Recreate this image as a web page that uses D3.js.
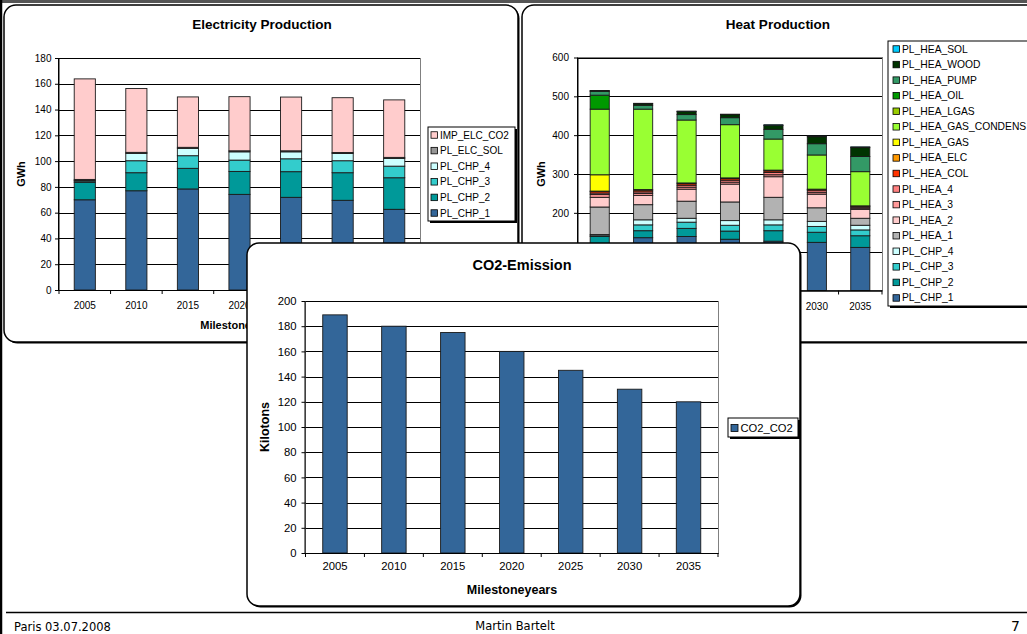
<!DOCTYPE html>
<html><head><meta charset="utf-8">
<script src="https://cdn.jsdelivr.net/npm/d3@7"></script>
<style>
body{margin:0;background:#fff;}
svg{display:block;font-family:"Liberation Sans",Arial,sans-serif;}
</style></head>
<body><svg id="c" width="1027" height="634"></svg>
<script>
// ---------------- DATA ----------------
const years = ["2005","2010","2015","2020","2025","2030","2035"];

// Electricity Production (GWh)
const elecKeys = ["PL_CHP_1","PL_CHP_2","PL_CHP_3","PL_CHP_4","PL_ELC_SOL","IMP_ELC_CO2"];
const elecCHP1 = [70, 77, 78.4, 74.2, 71.9, 69.6, 62.6];
const elecCHP2 = [13.5, 14, 16, 17.8, 19.9, 21.4, 24.5];
const elecCHP3 = [1, 9.3, 9.8, 8.8, 10, 9.3, 9];
const elecCHP4 = [0.5, 5.7, 5.7, 6.4, 5.4, 5.6, 6];
const elecSOL  = [0.8, 0.8, 0.8, 0.8, 0.8, 0.8, 0.8];
const elecIMP  = [78, 49.5, 39.1, 42, 41.7, 42.5, 44.6];
const elecColors = ["#336699","#009999","#33CCCC","#CCFFFF","#969696","#FFCCCC"];
const elecTicks = [0,20,40,60,80,100,120,140,160,180];

// Heat Production (GWh)
const heatKeys = ["PL_CHP_1","PL_CHP_2","PL_CHP_3","PL_CHP_4","PL_HEA_1","PL_HEA_2","PL_HEA_3","PL_HEA_4",
  "PL_HEA_COL","PL_HEA_ELC","PL_HEA_GAS","PL_HEA_GAS_CONDENS","PL_HEA_LGAS","PL_HEA_OIL","PL_HEA_PUMP","PL_HEA_WOOD","PL_HEA_SOL"];
const heatCHP1   = [120, 136, 139, 132, 127, 124, 111];
const heatCHP2   = [19, 18, 21, 21, 27, 26, 30];
const heatCHP3   = [2, 15, 16, 15, 15, 15, 15];
const heatCHP4   = [3, 13, 10, 12, 13, 13, 12];
const heatHEA1   = [71, 39, 44, 48, 58, 35, 18];
const heatHEA2   = [25, 24, 31, 46, 53, 35, 23];
const heatHEA3   = [7, 5, 5, 5, 5, 4, 3];
const heatHEA4   = [4, 4, 5, 5, 6, 5, 3];
const heatCOL    = [4, 4, 4, 4, 4, 3, 2];
const heatELC    = [1, 2, 2, 2, 2, 1, 1];
const heatGAS    = [42, 0, 0, 0, 0, 0, 0];
const heatCONDENS= [169, 207, 162, 137, 80, 88, 88];
const heatLGAS   = [0, 0, 0, 0, 0, 0, 0];
const heatOIL    = [36, 0, 0, 0, 0, 0, 0];
const heatPUMP   = [10, 10, 14, 18, 25, 29, 39];
const heatWOOD   = [1, 4, 8, 8, 10, 18, 23];
const heatSOL    = [1, 1, 1, 1, 2, 2, 2];
const heatColors = ["#336699","#009999","#33CCCC","#CCFFFF","#B2B2B2","#FFCCCC","#FF9999","#FF8080",
  "#FF3300","#FF9900","#FFFF00","#99FF33","#99CC00","#009900","#339966","#003300","#00CCFF"];
const heatTicks = [0,100,200,300,400,500,600];

// CO2-Emission (Kilotons)
const co2Keys = ["CO2_CO2"];
const co2Values = [189, 180, 175, 160, 145, 130, 120];
const co2Colors = ["#336699"];
const co2Ticks = [0,20,40,60,80,100,120,140,160,180,200];

// footer
const footerLeft = "Paris 03.07.2008";
const footerCenter = "Martin Bartelt";
const footerRight = "7";

// ---------------- BUILD ----------------
function rows(keys, arrays){
  return years.map((yr,i)=>{const r={year:yr}; keys.forEach((k,j)=>r[k]=arrays[j][i]); return r;});
}
const elecRows = rows(elecKeys,[elecCHP1,elecCHP2,elecCHP3,elecCHP4,elecSOL,elecIMP]);
const heatRows = rows(heatKeys,[heatCHP1,heatCHP2,heatCHP3,heatCHP4,heatHEA1,heatHEA2,heatHEA3,heatHEA4,
  heatCOL,heatELC,heatGAS,heatCONDENS,heatLGAS,heatOIL,heatPUMP,heatWOOD,heatSOL]);
const co2Rows = rows(co2Keys,[co2Values]);

const svg = d3.select("#c");

// slide frame
svg.append("line").attr("x1",0).attr("x2",1027).attr("y1",1.5).attr("y2",1.5).attr("stroke","#555").attr("stroke-width",3);
svg.append("line").attr("x1",1).attr("x2",1).attr("y1",0).attr("y2",634).attr("stroke","#000").attr("stroke-width",2.5);
svg.append("line").attr("x1",6).attr("x2",1027).attr("y1",612.5).attr("y2",612.5).attr("stroke","#000").attr("stroke-width",1.5);

svg.append("text").attr("x",14).attr("y",631).attr("font-family","DejaVu Sans").attr("font-size",11.5).text(footerLeft);
svg.append("text").attr("x",515).attr("y",630).attr("text-anchor","middle").attr("font-family","DejaVu Sans").attr("font-size",11.5).text(footerCenter);
svg.append("text").attr("x",1020).attr("y",631).attr("text-anchor","end").attr("font-family","DejaVu Sans").attr("font-size",14).text(footerRight);

function panel(x,y,w,h){
  const g = svg.append("g");
  g.append("rect").attr("x",x+1.5).attr("y",y+1.5).attr("width",w).attr("height",h).attr("rx",12).attr("fill","#000");
  g.append("rect").attr("x",x).attr("y",y).attr("width",w).attr("height",h).attr("rx",12)
    .attr("fill","#fff").attr("stroke","#000").attr("stroke-width",1.5);
  return g;
}

function chart(cfg){
  const g = panel(cfg.px,cfg.py,cfg.pw,cfg.ph);
  const x = d3.scaleBand().domain(years).range([cfg.x0,cfg.x1]).paddingInner(cfg.pad).paddingOuter(cfg.pad/2);
  const y = d3.scaleLinear().domain(cfg.ydom).range([cfg.y0,cfg.y1]);
  const fs = cfg.fs;
  g.append("rect").attr("x",cfg.x0).attr("y",cfg.y1).attr("width",cfg.x1-cfg.x0).attr("height",cfg.y0-cfg.y1)
    .attr("fill","#fff").attr("stroke","#808080").attr("stroke-width",1).attr("shape-rendering","crispEdges");
  g.append("g").selectAll("line").data(cfg.ticks.filter(t=>t>cfg.ydom[0])).join("line")
    .attr("x1",cfg.x0).attr("x2",cfg.x1).attr("y1",d=>Math.round(y(d))+0.5).attr("y2",d=>Math.round(y(d))+0.5)
    .attr("stroke","#000").attr("stroke-width",1).attr("shape-rendering","crispEdges");
  const series = d3.stack().keys(cfg.keys)(cfg.rows);
  g.append("g").selectAll("g").data(series).join("g").attr("fill",(d,i)=>cfg.colors[i])
    .selectAll("rect").data(d=>d.filter(p=>p[1]-p[0]>0)).join("rect")
    .attr("x",d=>x(d.data.year)).attr("width",x.bandwidth())
    .attr("y",d=>y(d[1])).attr("height",d=>y(d[0])-y(d[1]))
    .attr("stroke","#1a1a1a").attr("stroke-width",0.9);
  const ya = g.append("g").attr("transform",`translate(${cfg.x0},0)`)
    .call(d3.axisLeft(y).tickValues(cfg.ticks).tickSize(4).tickPadding(cfg.ypad).tickFormat(d3.format("d")));
  ya.select(".domain").attr("stroke","#000").attr("d",`M-0.5,${cfg.y0}V${cfg.y1}`);
  ya.selectAll("line").attr("stroke","#000");
  ya.selectAll("text").attr("font-size",fs).attr("font-family","Liberation Sans, Arial").attr("fill","#000");
  const xa = g.append("g").attr("transform",`translate(0,${cfg.y0})`)
    .call(d3.axisBottom(x).tickSize(0).tickPadding(cfg.xpad));
  xa.select(".domain").attr("stroke","#000");
  xa.selectAll("text").attr("font-size",fs).attr("font-family","Liberation Sans, Arial").attr("fill","#000");
  g.append("g").selectAll("line").data(d3.range(years.length+1)).join("line")
    .attr("x1",i=>cfg.x0+i*x.step()).attr("x2",i=>cfg.x0+i*x.step())
    .attr("y1",cfg.y0).attr("y2",cfg.y0+4).attr("stroke","#000");
  g.append("line").attr("x1",cfg.x0).attr("x2",cfg.x1).attr("y1",cfg.y0+0.5).attr("y2",cfg.y0+0.5).attr("stroke","#000");
  g.append("text").attr("x",cfg.tx).attr("y",cfg.ty).attr("text-anchor","middle").attr("dominant-baseline","central")
    .attr("font-weight","bold").attr("font-size",cfg.tfs).text(cfg.title);
  g.append("text").attr("transform",`translate(${cfg.ytx},${cfg.yty}) rotate(-90)`).attr("text-anchor","middle")
    .attr("dominant-baseline","central").attr("font-weight","bold").attr("font-size",cfg.afs).text(cfg.ytitle);
  g.append("text").attr("x",cfg.xtx).attr("y",cfg.xty).attr("text-anchor","middle").attr("dominant-baseline","central")
    .attr("font-weight","bold").attr("font-size",cfg.afs).text("Milestoneyears");
  const L = cfg.leg;
  g.append("rect").attr("x",L.x+2).attr("y",L.y+2).attr("width",L.w).attr("height",L.h).attr("fill","#000");
  g.append("rect").attr("x",L.x).attr("y",L.y).attr("width",L.w).attr("height",L.h).attr("fill","#fff")
    .attr("stroke","#000").attr("stroke-width",1);
  const items = cfg.keys.map((k,i)=>({k,c:cfg.colors[i]})).reverse();
  const li = g.append("g").selectAll("g").data(items).join("g")
    .attr("transform",(d,i)=>`translate(${L.x+L.sx},${L.y0+i*L.dy})`);
  li.append("rect").attr("x",0).attr("y",-L.s/2).attr("width",L.s).attr("height",L.s).attr("fill",d=>d.c)
    .attr("stroke","#000").attr("stroke-width",0.8);
  li.append("text").attr("x",L.s+2.5).attr("y",0).attr("dominant-baseline","central").attr("font-size",L.fs).text(d=>d.k);
  return g;
}

// Electricity Production
const gElec = chart({px:4,py:5,pw:514,ph:337,x0:59,x1:420,y0:290,y1:58,ydom:[0,180],ticks:elecTicks,pad:0.59,
  keys:elecKeys,rows:elecRows,colors:elecColors,fs:10,ypad:3.5,xpad:12,
  title:"Electricity Production",tx:262,ty:24,tfs:13.5,ytitle:"GWh",ytx:21,yty:174,xtx:240,xty:325,afs:11,
  leg:{x:428,y:127,w:87,h:94,sx:3,y0:135,dy:15.6,s:6.5,fs:10}});

// Heat Production
const gHeat = chart({px:522,py:5,pw:530,ph:337,x0:578,x1:882,y0:290.5,y1:57.5,ydom:[0,600],ticks:heatTicks,pad:0.56,
  keys:heatKeys,rows:heatRows,colors:heatColors,fs:10,ypad:5,xpad:12,
  title:"Heat Production",tx:778,ty:24,tfs:13.5,ytitle:"GWh",ytx:541,yty:174,xtx:730,xty:325,afs:11,
  leg:{x:888,y:41,w:150,h:265,sx:5,y0:49,dy:15.56,s:6.5,fs:10.3}});

// CO2-Emission (front panel)
const co2Panel = {x:247,y:243,w:553,h:363};
chart({px:co2Panel.x,py:co2Panel.y,pw:co2Panel.w,ph:co2Panel.h,x0:305.5,x1:718,y0:553,y1:301,ydom:[0,200],ticks:co2Ticks,pad:0.585,
  keys:co2Keys,rows:co2Rows,colors:co2Colors,fs:11.3,ypad:5,xpad:9,
  title:"CO2-Emission",tx:522,ty:265,tfs:14.5,ytitle:"Kilotons",ytx:265,yty:427,xtx:512,xty:590,afs:12.5,
  leg:{x:728,y:418,w:70,h:19,sx:3,y0:428,dy:16,s:7,fs:11.2}});

// texts of the back charts that lie completely under the CO2 panel are not visible: drop them
[gElec,gHeat].forEach(g=>{
  g.selectAll("text").each(function(){
    const b = this.getBoundingClientRect();
    if (b.left>=co2Panel.x && b.right<=co2Panel.x+co2Panel.w && b.top>=co2Panel.y && b.bottom<=co2Panel.y+co2Panel.h) d3.select(this).remove();
  });
});
</script>
</body></html>
